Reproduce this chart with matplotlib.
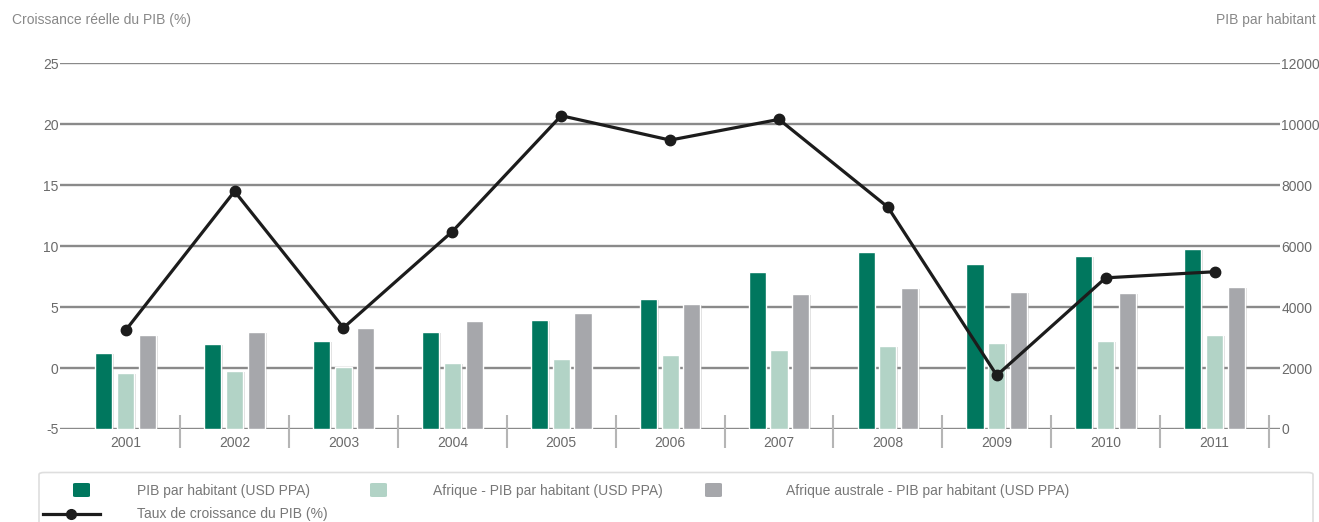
import matplotlib
matplotlib.use("Agg")
import matplotlib.pyplot as plt
import matplotlib.patheffects as pe
from matplotlib.patches import FancyBboxPatch
from matplotlib.lines import Line2D
import numpy as np

plt.rcParams['font.family'] = ['Liberation Sans', 'DejaVu Sans']
plt.rcParams['axes.unicode_minus'] = False

years = ["2001", "2002", "2003", "2004", "2005", "2006", "2007", "2008", "2009", "2010", "2011"]
pib_hab = [2500, 2790, 2890, 3180, 3580, 4255, 5165, 5810, 5405, 5665, 5915]
afrique_pib_hab = [1830, 1905, 2045, 2155, 2310, 2430, 2590, 2725, 2810, 2890, 3085]
afrique_australe_pib_hab = [3075, 3195, 3305, 3545, 3795, 4090, 4430, 4615, 4485, 4475, 4670]
croissance = [3.1, 14.5, 3.3, 11.2, 20.7, 18.7, 20.4, 13.2, -0.6, 7.4, 7.9]

bar_labels = ["PIB par habitant (USD PPA)",
              "Afrique - PIB par habitant (USD PPA)",
              "Afrique australe - PIB par habitant (USD PPA)"]
line_label = "Taux de croissance du PIB (%)"
left_title = "Croissance réelle du PIB (%)"
right_title = "PIB par habitant"
left_ticks = [-5, 0, 5, 10, 15, 20, 25]
right_ticks = [0, 2000, 4000, 6000, 8000, 10000, 12000]

colors = ["#00775E", "#B2D3C6", "#A6A7AB"]
txt = "#6a6a6a"

W, H = 1319, 522
fig = plt.figure(figsize=(W / 100, H / 100), dpi=100)

def fx(x):
    return x / W

def fy(y):
    return 1 - y / H

left_px, right_px, top_px, bot_px = 60, 1280, 63.3, 429
ax = fig.add_axes([fx(left_px), fy(bot_px), fx(right_px - left_px), (bot_px - top_px) / H])
ax2 = ax.twinx()

x = np.arange(len(years))
ax.set_xlim(-0.603, 10.601)

# Bars on the right (per-capita) axis
ax2.set_ylim(0, 12000)
ax2.set_yticks(right_ticks)
ax2.set_axisbelow(True)
ax2.yaxis.grid(True, color="#8a8a8a", linewidth=1.7)
offsets = [-0.2, 0.0, 0.2]
shadow = [pe.SimplePatchShadow(offset=(1.2, -0.8), shadow_rgbFace="#a0a0a0", alpha=0.35), pe.Normal()]
for vals, off, col in zip([pib_hab, afrique_pib_hab, afrique_australe_pib_hab], offsets, colors):
    bars = ax2.bar(x + off, vals, width=0.158, color=col, edgecolor="white", linewidth=1.0, zorder=3)
    for b in bars:
        b.set_path_effects(shadow)

# Growth line on the left axis, drawn above the bars
ax.set_zorder(ax2.get_zorder() + 1)
ax.patch.set_visible(False)
ax.set_ylim(-5, 25)
ax.set_yticks(left_ticks)
ax.plot(x, croissance, color="#1c1c1c", linewidth=2.3, marker="o", markersize=7.5, zorder=5)

for a in (ax, ax2):
    for s in a.spines.values():
        s.set_visible(False)
    a.tick_params(axis="y", length=0, labelsize=10, labelcolor=txt, pad=1)

ax.set_xticks(x)
ax.set_xticklabels(years)
ax.tick_params(axis="x", length=0, labelsize=10, labelcolor=txt, pad=5)

# Category separators
ax.vlines(np.append(x[:-1] + 0.5, x[-1] + 0.5), -0.052, 0.038, transform=ax.get_xaxis_transform(),
          color="#b5b5b5", linewidth=1.5, clip_on=False)

# Axis titles
fig.text(fx(12), fy(20), left_title, fontsize=10, color="#888888", ha="left", va="center")
fig.text(fx(1316), fy(20), right_title, fontsize=10, color="#888888", ha="right", va="center")

# Legend frame
box = FancyBboxPatch((fx(39), fy(540)), fx(1313 - 39), (540 - 472.5) / H,
                     boxstyle="round,pad=0,rounding_size=0.004",
                     transform=fig.transFigure, facecolor="white", edgecolor="#dedede",
                     linewidth=1.2, zorder=0)
box.set_path_effects([pe.SimplePatchShadow(offset=(0, -1.5), shadow_rgbFace="#e8e8e8", alpha=0.8), pe.Normal()])
fig.add_artist(box)

sq_x = [73, 370, 705]
txt_x = [137, 433, 786]
for sx, tx, col, lab in zip(sq_x, txt_x, colors, bar_labels):
    r = FancyBboxPatch((fx(sx), fy(497)), fx(17), 14 / H, boxstyle="round,pad=0,rounding_size=0.002",
                       transform=fig.transFigure, facecolor=col, edgecolor="none")
    fig.add_artist(r)
    fig.text(fx(tx), fy(490.5), lab, fontsize=10, color="#777777", ha="left", va="center")

fig.add_artist(Line2D([fx(43), fx(100)], [fy(514), fy(514)], transform=fig.transFigure,
                      color="#1c1c1c", linewidth=2.3))
fig.add_artist(Line2D([fx(71)], [fy(514)], transform=fig.transFigure, marker="o",
                      markersize=7, color="#1c1c1c"))
fig.text(fx(137), fy(514), line_label, fontsize=10, color="#777777", ha="left", va="center")

fig.savefig("out.png", dpi=100, facecolor="white")
